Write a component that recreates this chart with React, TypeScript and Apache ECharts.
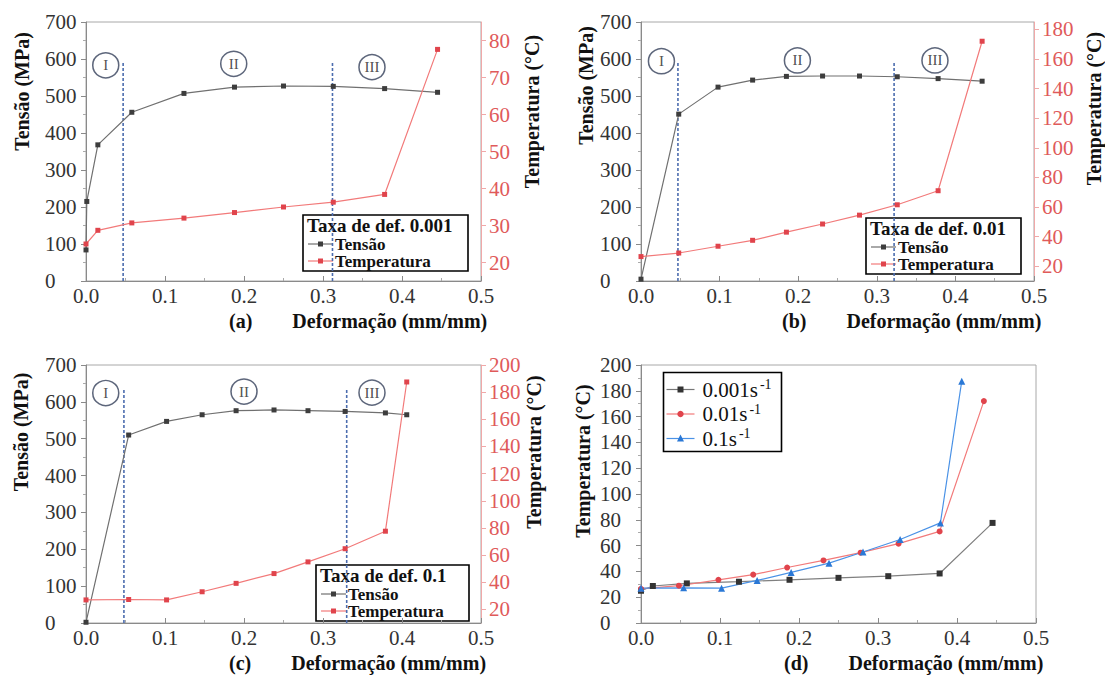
import React, { useEffect, useRef } from "react";
import * as echarts from "echarts";

// ---------- data ----------
// (a) strain rate 0.001
const strainTensA = [0, 0.001, 0.015, 0.058, 0.124, 0.188, 0.25, 0.313, 0.378, 0.445];
const tensaoA = [84, 215, 368, 456, 507, 524, 527, 526, 520, 510];
const strainTempA = [0, 0.015, 0.058, 0.124, 0.188, 0.25, 0.313, 0.378, 0.445];
const tempA = [25, 28.7, 30.7, 32, 33.5, 35, 36.3, 38.4, 77.6];
// (b) strain rate 0.01
const strainB = [0, 0.048, 0.098, 0.142, 0.185, 0.231, 0.278, 0.326, 0.378, 0.434];
const tensaoB = [5, 451, 524, 543, 553, 554, 554, 552, 547, 540];
const tempB = [26.5, 28.9, 33.5, 37.5, 43, 48.5, 54.5, 61.5, 71, 172];
// (c) strain rate 0.1
const strainC = [0, 0.054, 0.102, 0.147, 0.19, 0.238, 0.281, 0.328, 0.379, 0.406];
const tensaoC = [2, 510, 547, 565, 576, 578, 576, 574, 570, 565];
const tempC = [27, 27.3, 27, 33, 39.2, 46.4, 55, 64.7, 77.6, 187.5];

// stage dividers and stage labels
const dividersA = [0.047, 0.312];
const dividersB = [0.047, 0.322];
const dividersC = [0.048, 0.33];
const dividerTop = [593, 594, 633];
const stageNames = ["I", "II", "III"];
const stageXA = [0.025, 0.187, 0.362];
const stageYA = [583, 587, 578];
const stageXB = [0.026, 0.199, 0.374];
const stageYB = [594, 596, 596];
const stageXC = [0.025, 0.2, 0.362];
const stageYC = [624, 628, 625];

// axis ticks
const rightTicksA = [20, 30, 40, 50, 60, 70, 80];
const rightTicksB = [20, 40, 60, 80, 100, 120, 140, 160, 180];
const rightTicksC = [20, 40, 60, 80, 100, 120, 140, 160, 180, 200];

const FONT = "Liberation Serif";
const RED_LINE = "#f27a7a";
const RED_MARK = "#e0444c";
const GRAY_LINE = "#707070";
const GRAY_MARK = "#3d3d3d";
const BLUE_LINE = "#4a92e6";
const BLUE_MARK = "#2a78d6";

const pairs = (xs: number[], ys: number[]) => xs.map((x, i) => [x, ys[i]]);

const GRIDS = [
  { left: 86, top: 22, width: 395, height: 259 },
  { left: 641, top: 22, width: 395, height: 259 },
  { left: 86, top: 365, width: 395, height: 258 },
  { left: 641, top: 365, width: 395, height: 258 },
];

function xAxis(i: number, tag: string) {
  return {
    gridIndex: i,
    type: "value",
    min: 0,
    max: 0.5,
    interval: 0.1,
    axisLine: { show: true, onZero: false, lineStyle: { color: "#8a8a8a", width: 1 } },
    axisTick: { show: true, inside: true, length: 5, lineStyle: { color: "#8a8a8a" } },
    minorTick: { show: true, splitNumber: 2, length: 3, lineStyle: { color: "#aaa" } },
    splitLine: { show: false },
    axisLabel: {
      color: "#333",
      fontFamily: FONT,
      fontSize: 21,
      margin: 4,
      formatter: (v: number) => v.toFixed(1),
    },
    name: `{t|${tag}}{g| }Deformação (mm/mm)`,
    nameLocation: "end",
    nameGap: -252,
    nameTextStyle: {
      fontFamily: FONT,
      fontSize: 20,
      fontWeight: "bold",
      color: "#111",
      align: "left",
      verticalAlign: "top",
      padding: [30, 0, 0, 0],
      rich: {
        t: { fontFamily: FONT, fontSize: 20, fontWeight: "bold", color: "#111" },
        g: { width: 40 },
      },
    },
  };
}

function leftAxis(i: number, max: number, interval: number, name: string, gap: number, shift: number) {
  return {
    gridIndex: i,
    type: "value",
    position: "left",
    min: 0,
    max,
    interval,
    axisLine: { show: true, onZero: false, lineStyle: { color: "#8a8a8a" } },
    axisTick: { show: true, length: 5, lineStyle: { color: "#8a8a8a" } },
    minorTick: { show: true, splitNumber: 2, length: 3, lineStyle: { color: "#aaa" } },
    splitLine: { show: false },
    axisLabel: { color: "#333", fontFamily: FONT, fontSize: 21, margin: 41, align: "left" },
    name,
    nameLocation: "middle",
    nameRotate: 90,
    nameGap: gap,
    nameTextStyle: {
      fontFamily: FONT,
      fontSize: 20,
      fontWeight: "bold",
      color: "#111",
      padding: [0, 0, 0, shift * 2],
    },
  };
}

function rightAxis(i: number, min: number, max: number, ticks: number[], gap: number, shift: number) {
  return {
    gridIndex: i,
    type: "value",
    position: "right",
    min,
    max,
    axisLine: { show: true, onZero: false, lineStyle: { color: "#f0a8a8" } },
    axisTick: { show: true, length: 5, customValues: ticks, lineStyle: { color: "#f0a8a8" } },
    splitLine: { show: false },
    axisLabel: { color: "#e05a5a", fontFamily: FONT, fontSize: 21, margin: 8, customValues: ticks },
    name: "Temperatura (°C)",
    nameLocation: "middle",
    nameRotate: 90,
    nameGap: gap,
    nameTextStyle: {
      fontFamily: FONT,
      fontSize: 20,
      fontWeight: "bold",
      color: "#111",
      padding: [0, 0, 0, shift * 2],
    },
  };
}

function lineSeries(name: string, data: number[][], xi: number, yi: number, lineColor: string, markColor: string, symbol = "rect", size = 5) {
  return {
    type: "line",
    name,
    data,
    xAxisIndex: xi,
    yAxisIndex: yi,
    symbol,
    symbolSize: size,
    showSymbol: true,
    lineStyle: { color: lineColor, width: 1.2 },
    itemStyle: { color: markColor },
    z: 3,
  };
}

function dividerSeries(xs: number[], top: number, xi: number, yi: number) {
  return xs.map((x) => ({
    type: "line",
    data: [
      [x, 0],
      [x, top],
    ],
    xAxisIndex: xi,
    yAxisIndex: yi,
    symbol: "none",
    lineStyle: { color: "#4b6cae", width: 1.6, type: [3, 2] },
    z: 2,
    silent: true,
  }));
}

function stageSeries(xs: number[], ys: number[], xi: number, yi: number) {
  return {
    type: "scatter",
    xAxisIndex: xi,
    yAxisIndex: yi,
    data: xs.map((x, i) => ({ name: stageNames[i], value: [x, ys[i]] })),
    symbol: "circle",
    symbolSize: [26, 25],
    itemStyle: { color: "rgba(255,255,255,0)", borderColor: "#34405a", borderWidth: 1.5 },
    label: {
      show: true,
      position: "inside",
      formatter: (p: any) => p.name,
      fontFamily: FONT,
      fontSize: 15,
      color: "#222",
    },
    z: 4,
    silent: true,
  };
}

function legendBox(x: number, y: number, w: number, title: string) {
  const row = (cy: number, label: string, lc: string, mc: string) => [
    { type: "line", shape: { x1: 5, y1: cy, x2: 30, y2: cy }, style: { stroke: lc, lineWidth: 1.2 } },
    { type: "rect", shape: { x: 15, y: cy - 2.5, width: 5, height: 5 }, style: { fill: mc } },
    {
      type: "text",
      x: 32,
      y: cy,
      style: { text: label, fontFamily: FONT, fontSize: 17, fontWeight: "bold", fill: "#111", verticalAlign: "middle" },
    },
  ];
  return {
    type: "group",
    x,
    y,
    children: [
      { type: "rect", shape: { x: 0, y: 0, width: w, height: 56 }, style: { fill: "#fff", stroke: "#000", lineWidth: 1.6 } },
      {
        type: "text",
        x: 4,
        y: 10.5,
        style: { text: title, fontFamily: FONT, fontSize: 19, fontWeight: "bold", fill: "#111", verticalAlign: "middle" },
      },
      ...row(29, "Tensão", GRAY_LINE, GRAY_MARK),
      ...row(46, "Temperatura", RED_LINE, RED_MARK),
    ],
  };
}

function legendD(x: number, y: number) {
  const items = [
    { t: "0.001s{s|-1}", lc: "#777", mc: "#333", sym: "rect" },
    { t: "0.01s{s|-1}", lc: RED_LINE, mc: RED_MARK, sym: "circle" },
    { t: "0.1s{s|-1}", lc: BLUE_LINE, mc: BLUE_MARK, sym: "tri" },
  ];
  const children: any[] = [
    { type: "rect", shape: { x: 0, y: 0, width: 118, height: 79 }, style: { fill: "#fff", stroke: "#000", lineWidth: 1.6 } },
  ];
  items.forEach((it, i) => {
    const cy = 17 + i * 24.5;
    children.push({ type: "line", shape: { x1: 3, y1: cy, x2: 31, y2: cy }, style: { stroke: it.lc, lineWidth: 1.2 } });
    if (it.sym === "rect") children.push({ type: "rect", shape: { x: 14, y: cy - 3, width: 6, height: 6 }, style: { fill: it.mc } });
    else if (it.sym === "circle") children.push({ type: "circle", shape: { cx: 17, cy, r: 3.2 }, style: { fill: it.mc } });
    else children.push({ type: "polygon", shape: { points: [[17, cy - 4], [13.5, cy + 3], [20.5, cy + 3]] }, style: { fill: it.mc } });
    children.push({
      type: "text",
      x: 39,
      y: cy,
      style: {
        text: it.t,
        fontFamily: FONT,
        fontSize: 21,
        fill: "#111",
        verticalAlign: "middle",
        rich: { s: { fontFamily: FONT, fontSize: 14, fill: "#111", verticalAlign: "top", padding: [0, 0, 10, 2] } },
      },
    });
  });
  return { type: "group", x, y, children };
}

export default function App() {
  const ref = useRef<HTMLDivElement>(null);
  useEffect(() => {
    if (!ref.current) return;
    const chart = echarts.init(ref.current, undefined, { renderer: "svg" });
    const series: any[] = [
      // (a)
      ...dividerSeries(dividersA, dividerTop[0], 0, 0),
      lineSeries("Tensão", pairs(strainTensA, tensaoA), 0, 0, GRAY_LINE, GRAY_MARK),
      lineSeries("Temperatura", pairs(strainTempA, tempA), 0, 1, RED_LINE, RED_MARK),
      stageSeries(stageXA, stageYA, 0, 0),
      // (b)
      ...dividerSeries(dividersB, dividerTop[1], 1, 2),
      lineSeries("Tensão", pairs(strainB, tensaoB), 1, 2, GRAY_LINE, GRAY_MARK),
      lineSeries("Temperatura", pairs(strainB, tempB), 1, 3, RED_LINE, RED_MARK),
      stageSeries(stageXB, stageYB, 1, 2),
      // (c)
      ...dividerSeries(dividersC, dividerTop[2], 2, 4),
      lineSeries("Tensão", pairs(strainC, tensaoC), 2, 4, GRAY_LINE, GRAY_MARK),
      lineSeries("Temperatura", pairs(strainC, tempC), 2, 5, RED_LINE, RED_MARK),
      stageSeries(stageXC, stageYC, 2, 4),
      // (d)
      lineSeries("0.001 s-1", pairs(strainTempA, tempA), 3, 6, "#808080", "#333", "rect", 6),
      lineSeries("0.01 s-1", pairs(strainB, tempB), 3, 6, RED_LINE, RED_MARK, "circle", 6),
      lineSeries("0.1 s-1", pairs(strainC, tempC), 3, 6, BLUE_LINE, BLUE_MARK, "triangle", 7),
    ];
    chart.setOption({
      animation: false,
      backgroundColor: "#fff",
      grid: GRIDS.map((g) => ({ ...g, show: true, borderColor: "#a8a8a8", borderWidth: 1, backgroundColor: "transparent" })),
      xAxis: [xAxis(0, "(a)"), xAxis(1, "(b)"), xAxis(2, "(c)"), xAxis(3, "(d)")],
      yAxis: [
        leftAxis(0, 700, 100, "Tensão (MPa)", 54, 60),
        rightAxis(0, 15, 85, rightTicksA, 41, 40),
        leftAxis(1, 700, 100, "Tensão (MPa)", 45, 66),
        rightAxis(1, 10, 185, rightTicksB, 50, 43),
        leftAxis(2, 700, 100, "Tensão (MPa)", 55, 62),
        rightAxis(2, 10, 200, rightTicksC, 43, 42),
        leftAxis(3, 200, 20, "Temperatura (°C)", 48, 33),
      ],
      series,
      graphic: [
        legendBox(303, 215, 165, "Taxa de def. 0.001"),
        legendBox(866, 218, 155, "Taxa de def. 0.01"),
        legendBox(316, 565, 153, "Taxa de def. 0.1"),
        legendD(663.5, 372.5),
      ],
    });
    return () => chart.dispose();
  }, []);
  return (
    <div
      ref={ref}
      style={{ position: "absolute", left: 0, top: 0, width: 1105, height: 675, background: "#fff" }}
    />
  );
}
